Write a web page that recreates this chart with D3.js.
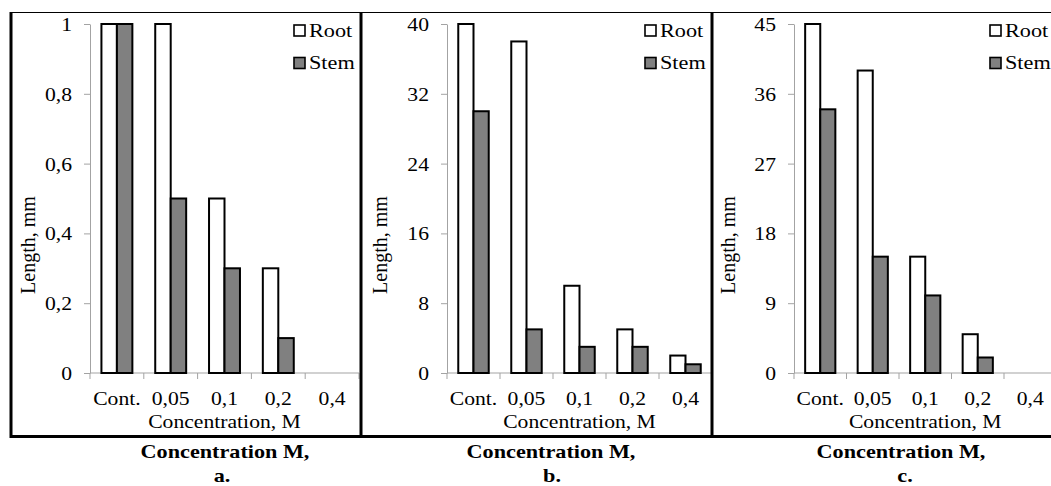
<!DOCTYPE html>
<html>
<head>
<meta charset="utf-8">
<script src="https://cdnjs.cloudflare.com/ajax/libs/d3/7.8.5/d3.min.js"></script>
<style>
body { margin:0; background:#fff; }
text { font-family:"Liberation Serif","Times New Roman",serif; fill:#000; }
</style>
</head>
<body>
<div id="chart"></div>
<script>
// data
var categories = ["Cont.", "0,05", "0,1", "0,2", "0,4"];
var series = ["Root", "Stem"];

var rootA = [1, 1, 0.5, 0.3, 0];
var stemA = [1, 0.5, 0.3, 0.1, 0];
var rootB = [40, 38, 10, 5, 2];
var stemB = [30, 5, 3, 3, 1];
var rootC = [45, 39, 15, 5, 0];
var stemC = [34, 15, 10, 2, 0];

var ticksA = [0, 0.2, 0.4, 0.6, 0.8, 1];
var tickLabelsA = ["0", "0,2", "0,4", "0,6", "0,8", "1"];
var ticksB = [0, 8, 16, 24, 32, 40];
var ticksC = [0, 9, 18, 27, 36, 45];

var panelLetters = ["a.", "b.", "c."];

var W = 1051, H = 486;
var SX = 1.14;   // the picture is a little stretched sideways
var yTop = 24, yBottom = 373;
var axisColor = "#a3a3a3";
var fills = {Root: "#ffffff", Stem: "#808080"};

var svg = d3.select("#chart").append("svg")
    .attr("width", W)
    .attr("height", H);

function stext(g, x, y, str, anchor, size, weight, sx) {
  return g.append("text")
    .attr("transform", "translate(" + x + "," + y + ") scale(" + (sx || SX) + ",1)")
    .style("text-anchor", anchor)
    .style("font-size", size + "px")
    .style("font-weight", weight || "normal")
    .text(str);
}

var panels = [
  {root: rootA, stem: stemA, ticks: ticksA, labels: tickLabelsA, x0: 90, x1: 359, legX: 294, ylab: 35, titleX: 225, letterX: 222},
  {root: rootB, stem: stemB, ticks: ticksB, labels: ticksB.map(String), x0: 447, x1: 712, legX: 645, ylab: 386.5, titleX: 551, letterX: 552},
  {root: rootC, stem: stemC, ticks: ticksC, labels: ticksC.map(String), x0: 794, x1: 1056.5, legX: 990, ylab: 735, titleX: 901, letterX: 905}
];

panels.forEach(function(p, pi) {
  var g = svg.append("g");

  var y = d3.scaleLinear()
      .domain([0, d3.max(p.ticks)])
      .range([yBottom, yTop]);

  var x = d3.scaleBand()
      .domain(categories)
      .range([p.x0, p.x1])
      .padding(0);

  var groupW = x.bandwidth() * 0.575;
  var xs = d3.scaleBand()
      .domain(series)
      .range([(x.bandwidth() - groupW) / 2, (x.bandwidth() + groupW) / 2]);

  // y axis
  var yAxis = d3.axisLeft(y)
      .tickValues(p.ticks)
      .tickFormat(function(d, i) { return p.labels[i]; })
      .tickSize(6)
      .tickSizeOuter(0);
  var ya = g.append("g")
      .attr("transform", "translate(" + p.x0 + ",0)")
      .call(yAxis);
  ya.selectAll("path, line").attr("stroke", axisColor);
  ya.selectAll("text")
      .attr("x", null)
      .attr("dy", null)
      .attr("transform", "translate(-18,6.5) scale(" + SX + ",1)")
      .style("font-family", "Liberation Serif, serif")
      .style("font-size", "19px")
      .attr("fill", "#000");

  // x axis, ticks between categories
  g.append("line")
      .attr("x1", p.x0).attr("x2", p.x1)
      .attr("y1", yBottom).attr("y2", yBottom)
      .attr("stroke", axisColor);
  g.selectAll(".xt")
      .data(categories.map(function(c) { return x(c); }).concat([p.x1]))
      .enter().append("line")
      .attr("x1", function(d) { return d; })
      .attr("x2", function(d) { return d; })
      .attr("y1", yBottom).attr("y2", yBottom + 6)
      .attr("stroke", axisColor);
  categories.forEach(function(c) {
    stext(g, x(c) + x.bandwidth() / 2, yBottom + 32, c, "middle", 19);
  });
  stext(g, (p.x0 + p.x1) / 2, 428, "Concentration, M", "middle", 19);

  // bars
  var rows = [];
  categories.forEach(function(c, i) {
    rows.push({cat: c, s: "Root", v: p.root[i]});
    rows.push({cat: c, s: "Stem", v: p.stem[i]});
  });
  g.selectAll("rect.bar")
      .data(rows.filter(function(d) { return d.v > 0; }))
      .enter().append("rect")
      .attr("class", "bar")
      .attr("x", function(d) { return x(d.cat) + xs(d.s); })
      .attr("width", xs.bandwidth())
      .attr("y", function(d) { return y(d.v); })
      .attr("height", function(d) { return yBottom - y(d.v); })
      .attr("fill", function(d) { return fills[d.s]; })
      .attr("stroke", "#000")
      .attr("stroke-width", 2);

  // y label
  g.append("text")
      .attr("transform", "translate(" + p.ylab + ",245) rotate(-90)")
      .style("text-anchor", "middle")
      .style("font-size", "20px")
      .text("Length, mm");

  // legend
  series.forEach(function(s, i) {
    g.append("rect")
        .attr("x", p.legX).attr("y", 25 + i * 32.5)
        .attr("width", 11).attr("height", 11)
        .attr("fill", fills[s])
        .attr("stroke", "#000")
        .attr("stroke-width", 1.6);
    stext(g, p.legX + 15, 36.5 + i * 32, s, "start", 19.5);
  });

  // caption under the panel
  stext(svg, p.titleX, 458, "Concentration M,", "middle", 18.5, "bold", 1.2);
  stext(svg, p.letterX, 482, panelLetters[pi], "middle", 18.5, "bold", 1.2);
});

// frame of the figure
var frame = svg.append("g").attr("stroke", "#000");
frame.append("line").attr("x1", 10).attr("x2", W).attr("y1", 12.5).attr("y2", 12.5).attr("stroke-width", 1.2);
frame.append("line").attr("x1", 10).attr("x2", W).attr("y1", 436.5).attr("y2", 436.5).attr("stroke-width", 3);
frame.selectAll(".v")
    .data([11, 361, 712])
    .enter().append("line")
    .attr("x1", function(d) { return d; })
    .attr("x2", function(d) { return d; })
    .attr("y1", 12).attr("y2", 438)
    .attr("stroke-width", 3);
</script>
</body>
</html>
